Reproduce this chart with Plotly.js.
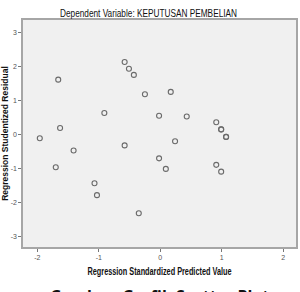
<!DOCTYPE html>
<html>
<head>
<meta charset="utf-8">
<script src="https://cdn.plot.ly/plotly-3.0.1.min.js"></script>
<style>
  html, body { margin: 0; padding: 0; background: #ffffff; }
  #chart { width: 300px; height: 292px; }
</style>
</head>
<body>
<div id="chart"></div>
<script>
// Standardized predicted values (x) and studentized residuals (y)
const predicted = [
  -1.66, -0.58, -0.51, -0.43, -0.25, 0.17,
  -0.91, -0.02, 0.43, 0.91, 0.99, 0.99, 1.07, 1.07,
  -1.63, -1.96, -1.41, -0.58, 0.24, -0.02,
  -1.70, 0.09, 0.91, 0.99, -1.07, -1.03, -0.35
];
const residual = [
  1.61, 2.13, 1.93, 1.75, 1.18, 1.25,
  0.63, 0.55, 0.53, 0.36, 0.15, 0.15, -0.07, -0.07,
  0.19, -0.11, -0.47, -0.32, -0.20, -0.70,
  -0.96, -1.01, -0.89, -1.09, -1.43, -1.78, -2.31
];

const xTicks = [-2, -1, 0, 1, 2];
const xTickText = ["-2", "-1", "0", "1", "2"];
const yTicks = [3, 2, 1, 0, -1, -2, -3];
const yTickText = ["3", "2", "1", "0", "-1", "-2", "-3"];

const chartTitle = "Dependent Variable: KEPUTUSAN PEMBELIAN";
const xTitle = "Regression Standardized Predicted Value";
const yTitle = "Regression Studentized Residual";
const caption = "Gambar  Grafik Scatter Plot";

const sans = "Liberation Sans, Arial, sans-serif";

const trace = {
  type: "scatter",
  mode: "markers",
  x: predicted,
  y: residual,
  marker: {
    symbol: "circle-open",
    size: 5,
    color: "#6a6a6a",
    line: { width: 1.1, color: "#6a6a6a" }
  },
  hoverinfo: "skip"
};

const axisCommon = {
  showgrid: false,
  zeroline: false,
  showline: true,
  mirror: true,
  linecolor: "#a6a6a6",
  linewidth: 1.6,
  ticks: "outside",
  ticklen: 3,
  tickwidth: 1,
  tickcolor: "#777777",
  tickfont: { family: sans, size: 7, color: "#555555" },
  fixedrange: true
};

const layout = {
  width: 300,
  height: 292,
  margin: { l: 23, r: 4, t: 20, b: 45, pad: 0 },
  paper_bgcolor: "#ffffff",
  plot_bgcolor: "#f0f0f0",
  showlegend: false,
  title: {
    text: chartTitle,
    font: { family: sans, size: 10.5, color: "#111111" },
    x: 0.495, xanchor: "center",
    y: 0.955, yanchor: "middle"
  },
  xaxis: Object.assign({}, axisCommon, {
    range: [-2.233, 2.207],
    tickvals: xTicks,
    ticktext: xTickText,
    title: {
      text: "<b>" + xTitle + "</b>",
      font: { family: sans, size: 10.5, color: "#111111" },
      standoff: 7
    }
  }),
  yaxis: Object.assign({}, axisCommon, {
    range: [-3.302, 3.361],
    tickvals: yTicks,
    ticktext: yTickText,
    title: {
      text: "<b>" + yTitle + "</b>",
      font: { family: sans, size: 8.5, color: "#111111" },
      standoff: 6
    }
  }),
  annotations: [{
    text: "<b>" + caption + "</b>",
    xref: "paper", yref: "paper",
    x: 0.5, xanchor: "center",
    y: -0.158, yanchor: "top",
    showarrow: false,
    font: { family: "Open Sans, Liberation Sans, sans-serif", size: 16, color: "#111111" }
  }]
};

// Condensed look for the chart title and x-axis title
function condense(selector, width) {
  const el = document.querySelector(selector);
  if (!el) return;
  el.setAttribute("textLength", width);
  el.setAttribute("lengthAdjust", "spacingAndGlyphs");
}

Plotly.newPlot("chart", [trace], layout, { staticPlot: true, displayModeBar: false })
  .then(function () {
    condense("#chart .gtitle", 177);
    condense("#chart .xtitle", 144);
  });
</script>
</body>
</html>
